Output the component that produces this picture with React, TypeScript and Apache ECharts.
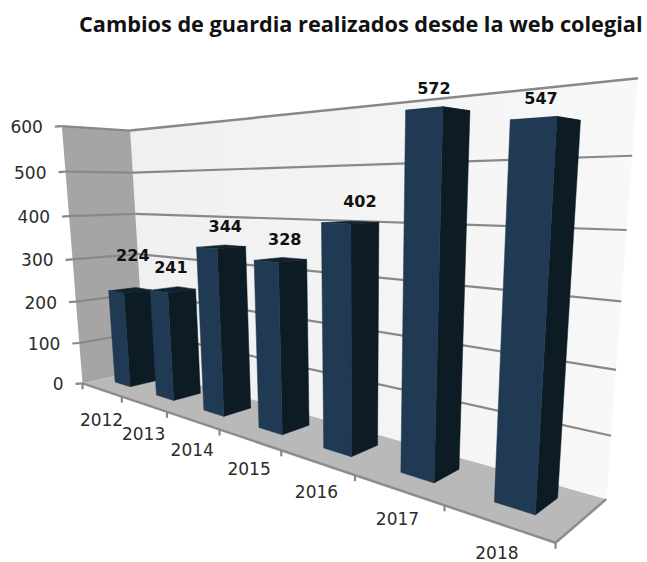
import React, { useEffect, useRef } from "react";
import * as echarts from "echarts";

const titleText = "Cambios de guardia realizados desde la web colegial";
const years = ["2012", "2013", "2014", "2015", "2016", "2017", "2018"];
const changes = [224, 241, 344, 328, 402, 572, 547];
const valueTicks = [0, 100, 200, 300, 400, 500, 600];

const W = 647;
const H = 562;
const GRID = { left: 20, top: 20, width: 600, height: 500 };
const MAX_VALUE = 600;

// Calibration of the oblique view: box coordinates (category, value, depth) -> page pixels
const calibration: number[][] = [
  [0, 0, 0, 83, 382], [0, 600, 0, 61, 126], [0, 300, 0, 74, 258],
  [0, 0, 1, 145, 370], [0, 100, 1, 142, 332], [0, 200, 1, 140, 293], [0, 300, 1, 138, 254],
  [0, 400, 1, 135, 214], [0, 500, 1, 133, 173], [0, 600, 1, 130, 131],
  [7, 0, 1, 606, 498], [7, 100, 1, 612, 435], [7, 200, 1, 616, 369], [7, 300, 1, 622, 301],
  [7, 400, 1, 627, 230], [7, 500, 1, 632, 156], [7, 600, 1, 638, 79],
  [1, 0, 0, 122, 397], [2, 0, 0, 167, 413], [3, 0, 0, 219, 429], [4, 0, 0, 281, 451],
  [5, 0, 0, 355, 477], [6, 0, 0, 444, 507], [7, 0, 0, 555, 541],
];

function fitCamera(rows: number[][]): number[] {
  const n = 11;
  const A = Array.from({ length: n }, () => new Array(n + 1).fill(0));
  const add = (r: number[], b: number) => {
    for (let i = 0; i < n; i++) {
      for (let j = 0; j < n; j++) A[i][j] += r[i] * r[j];
      A[i][n] += r[i] * b;
    }
  };
  rows.forEach(([x, y, z, u, v]) => {
    const X = x / 7, Y = y / MAX_VALUE, Z = z, U = u / 600, V = v / 600;
    add([X, Y, Z, 1, 0, 0, 0, 0, -U * X, -U * Y, -U * Z], U);
    add([0, 0, 0, 0, X, Y, Z, 1, -V * X, -V * Y, -V * Z], V);
  });
  for (let c = 0; c < n; c++) {
    let p = c;
    for (let r = c + 1; r < n; r++) if (Math.abs(A[r][c]) > Math.abs(A[p][c])) p = r;
    [A[c], A[p]] = [A[p], A[c]];
    for (let r = 0; r < n; r++) {
      if (r === c) continue;
      const f = A[r][c] / A[c][c];
      for (let k = c; k <= n; k++) A[r][k] -= f * A[c][k];
    }
  }
  return A.map((row, i) => row[n] / row[i]);
}
const cam = fitCamera(calibration);

// x in category units, y in value units, z in 0 (front) .. 1 (back)
function project(x: number, y: number, z: number): number[] {
  const X = x / 7, Y = y / MAX_VALUE;
  const w = cam[8] * X + cam[9] * Y + cam[10] * z + 1;
  return [
    (600 * (cam[0] * X + cam[1] * Y + cam[2] * z + cam[3])) / w,
    (600 * (cam[4] * X + cam[5] * Y + cam[6] * z + cam[7])) / w,
  ];
}

// pixel in the hidden grid -> box coordinates, so that positions come through the axes' scales
const toBox = (c: number[]) => ({
  x: ((c[0] - GRID.left) / GRID.width) * years.length,
  y: ((GRID.top + GRID.height - c[1]) / GRID.height) * MAX_VALUE,
});

const GRID_COLOR = "#888888";
const TICK_FONT = '17px "DejaVu Sans"';
const LABEL_FONT = 'bold 16px "DejaVu Sans"';

const BAR = { x0: -0.21, x1: 0.17, z0: 0.33, z1: 0.75 };
// Excel's placement of the data labels, relative to the top of each bar
const labelNudge = [[2, -35], [-3, -22], [3, -20], [3, -20], [8, -21], [-6, -22], [-7, -21]];

const poly = (points: number[][], fill: any, stroke?: string, lineWidth = 0) => ({
  type: "polygon",
  shape: { points },
  style: { fill, stroke: stroke ?? fill, lineWidth },
});
const seg = (a: number[], b: number[], stroke = GRID_COLOR, lineWidth = 2.2) => ({
  type: "line",
  shape: { x1: a[0], y1: a[1], x2: b[0], y2: b[1] },
  style: { stroke, lineWidth },
});
const text = (str: string, x: number, y: number, font: string, fill: string, align = "center") => ({
  type: "text",
  style: { text: str, x, y, font, fill, align, verticalAlign: "middle" },
});

function renderWalls() {
  const n = years.length;
  const backFill = new echarts.graphic.LinearGradient(0, 0, 1, 0, [
    { offset: 0, color: "#f0f0f0" },
    { offset: 1, color: "#f8f8f8" },
  ]);
  return {
    type: "group",
    children: [
      poly([project(0, 0, 1), project(n, 0, 1), project(n, MAX_VALUE, 1), project(0, MAX_VALUE, 1)], backFill),
      poly([project(0, 0, 0), project(0, 0, 1), project(0, MAX_VALUE, 1), project(0, MAX_VALUE, 0)], "#a6a5a4"),
      poly([project(0, 0, 0), project(n, 0, 0), project(n, 0, 1), project(0, 0, 1)], "#b9b9b9"),
      seg(project(0, 0, 0), project(n, 0, 0), "#8d8d8d", 2.5),
      seg(project(n, 0, 0), project(n, 0, 1), "#8d8d8d", 2.5),
    ],
  };
}

function renderValueTick(_: any, api: any) {
  const { y } = toBox(api.coord([0, api.value(1)]));
  const n = years.length;
  const front = project(0, y, 0);
  const back = project(0, y, 1);
  const right = project(n, y, 1);
  const tickEnd = [front[0] - 7, front[1] + 0.5];
  const children: any[] = [seg(tickEnd, front)];
  if (y > 0) children.push(seg(front, back), seg(back, right, GRID_COLOR, y === MAX_VALUE ? 2.5 : 2.2));
  children.push(text(String(Math.round(y)), front[0] - 19, front[1] + 1, TICK_FONT, "#2b2b2b", "right"));
  return { type: "group", children };
}

function renderCategoryTick(_: any, api: any) {
  const i = api.value(0);
  const { x } = toBox(api.coord([i, 0]));
  const edge = project(x + 0.5, 0, 0);
  const mid = project(x, 0, 0);
  return {
    type: "group",
    children: [
      seg(edge, [edge[0], edge[1] + 6]),
      ...(i === 0 ? [seg(project(0, 0, 0), [project(0, 0, 0)[0], project(0, 0, 0)[1] + 6])] : []),
      text(years[i], mid[0], mid[1] + 30, TICK_FONT, "#2b2b2b"),
    ],
  };
}

function renderBar(_: any, api: any) {
  const i = api.value(0);
  const v = api.value(1);
  const { x, y } = toBox(api.coord([i, v]));
  const a = x + BAR.x0, b = x + BAR.x1;
  const fl0 = project(a, 0, BAR.z0), fr0 = project(b, 0, BAR.z0), br0 = project(b, 0, BAR.z1);
  const fl1 = project(a, y, BAR.z0), fr1 = project(b, y, BAR.z0), br1 = project(b, y, BAR.z1);
  const bl1 = project(a, y, BAR.z1);
  const top = project(x, y, (BAR.z0 + BAR.z1) / 2);
  const [dx, dy] = labelNudge[i];
  return {
    type: "group",
    children: [
      poly([fl1, fr1, br1, bl1], "#11222f", "#11222f", 0.5),
      poly([fr0, br0, br1, fr1], "#0d1b24", "#0d1b24", 0.5),
      poly([fl0, fr0, fr1, fl1], "#1f3a52", "#1f3a52", 0.5),
      text(String(v), top[0] + dx, top[1] + dy, LABEL_FONT, "#111111"),
    ],
  };
}

export default function App() {
  const ref = useRef<HTMLDivElement>(null);
  useEffect(() => {
    const chart = echarts.init(ref.current!, undefined, { renderer: "svg" });
    chart.setOption({
      animation: false,
      backgroundColor: "#ffffff",
      title: {
        text: titleText,
        left: 74,
        top: 7,
        textStyle: { fontFamily: "Open Sans", fontWeight: "bold", fontSize: 21.7, color: "#111111" },
      },
      grid: { ...GRID, containLabel: false },
      xAxis: { type: "category", data: years, show: false },
      yAxis: { type: "value", min: 0, max: MAX_VALUE, interval: 100, show: false },
      series: [
        { type: "custom", silent: true, clip: false, z: 1, renderItem: renderWalls, data: [[0, MAX_VALUE]], encode: { x: 0, y: 1 } },
        { type: "custom", silent: true, clip: false, z: 2, renderItem: renderValueTick, data: valueTicks.map((v) => [0, v]), encode: { x: 0, y: 1 } },
        { type: "custom", silent: true, clip: false, z: 3, renderItem: renderCategoryTick, data: years.map((_, i) => [i, 0]), encode: { x: 0, y: 1 } },
        { type: "custom", silent: true, clip: false, z: 4, renderItem: renderBar, data: changes.map((v, i) => [i, v]), encode: { x: 0, y: 1 } },
      ],
    });
    return () => chart.dispose();
  }, []);
  return <div ref={ref} style={{ position: "absolute", left: 0, top: 0, width: W, height: H }} />;
}
